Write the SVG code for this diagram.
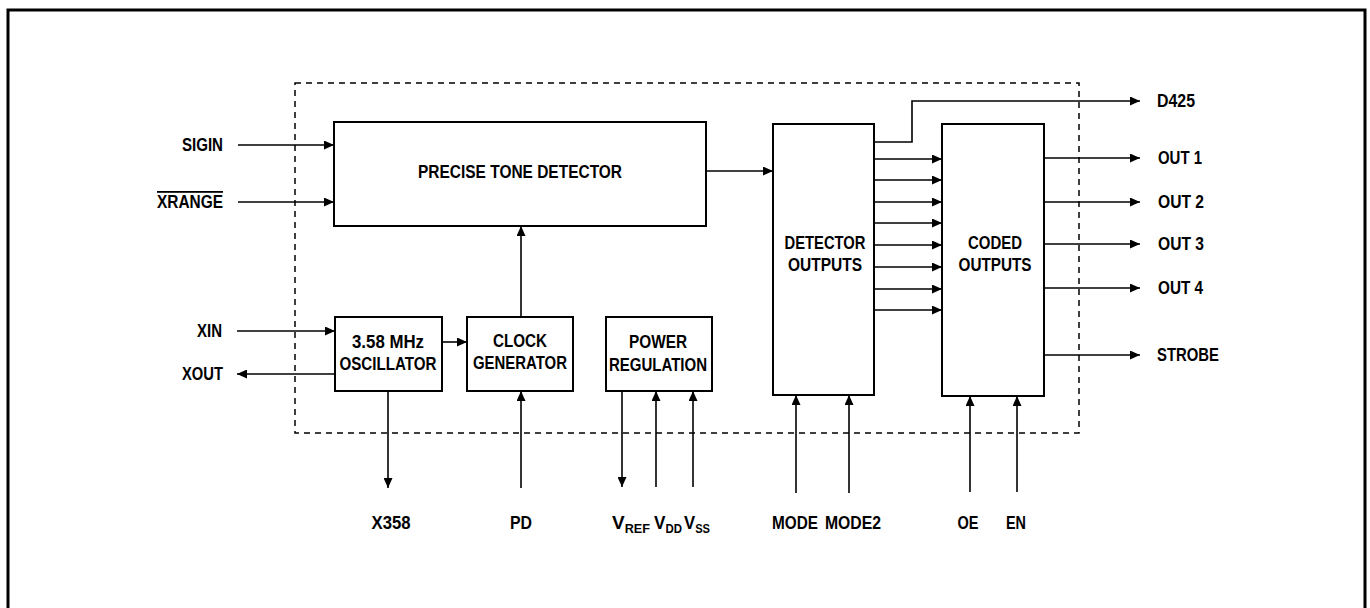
<svg xmlns="http://www.w3.org/2000/svg" width="1370" height="608" viewBox="0 0 1370 608">
<defs>
<marker id="ah" markerUnits="userSpaceOnUse" markerWidth="11" markerHeight="9" refX="10" refY="4.5" orient="auto">
<path d="M0,0 L10,4.5 L0,9 z" fill="#000"/>
</marker>
<style>
.box{fill:#fff;stroke:#000;stroke-width:2}
.ar{fill:none;stroke:#000;stroke-width:1.6;marker-end:url(#ah)}
.t{font-family:"Liberation Sans",Arial,sans-serif;font-weight:bold;font-size:18px;fill:#000}
.c{text-anchor:middle}
.e{text-anchor:end}
.sub{font-size:12px}
</style>
</defs>
<rect width="1370" height="608" fill="#fff"/>
<path d="M8,608 V10 H1365 V608" fill="none" stroke="#000" stroke-width="3"/>
<rect x="295" y="83" width="784" height="350" fill="none" stroke="#000" stroke-width="1.5" stroke-dasharray="6,5"/>

<g id="connectors">
<path class="ar" d="M238,145 H334"/>
<path class="ar" d="M238,202 H334"/>
<path class="ar" d="M237,331 H335"/>
<path class="ar" d="M335,374 H237"/>
<path class="ar" d="M442,342 H467"/>
<path class="ar" d="M521,317 V226"/>
<path class="ar" d="M388,391 V488"/>
<path class="ar" d="M521,488 V391"/>
<path class="ar" d="M622,391 V487"/>
<path class="ar" d="M656,487 V391"/>
<path class="ar" d="M693,487 V391"/>
<path class="ar" d="M706,171 H773"/>
<path class="ar" d="M874,142 H912 V101 H1140"/>
<path class="ar" d="M874,159 H942"/>
<path class="ar" d="M874,180 H942"/>
<path class="ar" d="M874,202 H942"/>
<path class="ar" d="M874,223 H942"/>
<path class="ar" d="M874,245 H942"/>
<path class="ar" d="M874,267 H942"/>
<path class="ar" d="M874,289 H942"/>
<path class="ar" d="M874,310 H942"/>
<path class="ar" d="M1044,158 H1140"/>
<path class="ar" d="M1044,202 H1140"/>
<path class="ar" d="M1044,244 H1140"/>
<path class="ar" d="M1044,288 H1140"/>
<path class="ar" d="M1044,355 H1140"/>
<path class="ar" d="M796,493 V395"/>
<path class="ar" d="M849,493 V395"/>
<path class="ar" d="M970,492 V396"/>
<path class="ar" d="M1017,492 V396"/>
</g>

<g id="ptd">
<rect class="box" x="334" y="122" width="372" height="104"/>
<text class="t c" x="520" y="178" textLength="204" lengthAdjust="spacingAndGlyphs">PRECISE TONE DETECTOR</text>
</g>
<g id="osc">
<rect class="box" x="335" y="317" width="107" height="74"/>
<text class="t c" x="388" y="348" textLength="72" lengthAdjust="spacingAndGlyphs">3.58 MHz</text>
<text class="t c" x="388" y="370" textLength="97" lengthAdjust="spacingAndGlyphs">OSCILLATOR</text>
</g>
<g id="clk">
<rect class="box" x="467" y="317" width="106" height="74"/>
<text class="t c" x="520" y="347" textLength="54" lengthAdjust="spacingAndGlyphs">CLOCK</text>
<text class="t c" x="520" y="369" textLength="94" lengthAdjust="spacingAndGlyphs">GENERATOR</text>
</g>
<g id="pwr">
<rect class="box" x="606" y="317" width="106" height="74"/>
<text class="t c" x="658" y="348" textLength="58" lengthAdjust="spacingAndGlyphs">POWER</text>
<text class="t c" x="658" y="371" textLength="98" lengthAdjust="spacingAndGlyphs">REGULATION</text>
</g>
<g id="det">
<rect class="box" x="773" y="124" width="101" height="271"/>
<text class="t c" x="825" y="249" textLength="81" lengthAdjust="spacingAndGlyphs">DETECTOR</text>
<text class="t c" x="825" y="271" textLength="74" lengthAdjust="spacingAndGlyphs">OUTPUTS</text>
</g>
<g id="coded">
<rect class="box" x="942" y="124" width="102" height="272"/>
<text class="t c" x="995" y="249" textLength="54" lengthAdjust="spacingAndGlyphs">CODED</text>
<text class="t c" x="995" y="271" textLength="73" lengthAdjust="spacingAndGlyphs">OUTPUTS</text>
</g>

<g id="labels">
<text class="t e" x="223" y="151" textLength="41" lengthAdjust="spacingAndGlyphs">SIGIN</text>
<text class="t e" x="223" y="208" textLength="66" lengthAdjust="spacingAndGlyphs" style="text-decoration:overline">XRANGE</text>
<text class="t e" x="222" y="337" textLength="25" lengthAdjust="spacingAndGlyphs">XIN</text>
<text class="t e" x="223" y="380" textLength="41" lengthAdjust="spacingAndGlyphs">XOUT</text>
<text class="t" x="1157" y="107" textLength="38" lengthAdjust="spacingAndGlyphs">D425</text>
<text class="t" x="1158" y="164" textLength="44" lengthAdjust="spacingAndGlyphs">OUT 1</text>
<text class="t" x="1158" y="208" textLength="46" lengthAdjust="spacingAndGlyphs">OUT 2</text>
<text class="t" x="1158" y="250" textLength="46" lengthAdjust="spacingAndGlyphs">OUT 3</text>
<text class="t" x="1158" y="294" textLength="45" lengthAdjust="spacingAndGlyphs">OUT 4</text>
<text class="t" x="1157" y="361" textLength="62" lengthAdjust="spacingAndGlyphs">STROBE</text>
<text class="t c" x="391" y="529" textLength="39" lengthAdjust="spacingAndGlyphs">X358</text>
<text class="t c" x="521" y="529" textLength="22" lengthAdjust="spacingAndGlyphs">PD</text>
<text class="t" x="612" y="529" textLength="38" lengthAdjust="spacingAndGlyphs">V<tspan class="sub" dy="4">REF</tspan></text>
<text class="t" x="654" y="529" textLength="28" lengthAdjust="spacingAndGlyphs">V<tspan class="sub" dy="4">DD</tspan></text>
<text class="t" x="684" y="529" textLength="26" lengthAdjust="spacingAndGlyphs">V<tspan class="sub" dy="4">SS</tspan></text>
<text class="t c" x="795" y="529" textLength="46" lengthAdjust="spacingAndGlyphs">MODE</text>
<text class="t c" x="853" y="529" textLength="56" lengthAdjust="spacingAndGlyphs">MODE2</text>
<text class="t c" x="968" y="529" textLength="21" lengthAdjust="spacingAndGlyphs">OE</text>
<text class="t c" x="1016" y="529" textLength="20" lengthAdjust="spacingAndGlyphs">EN</text>
</g>
</svg>
